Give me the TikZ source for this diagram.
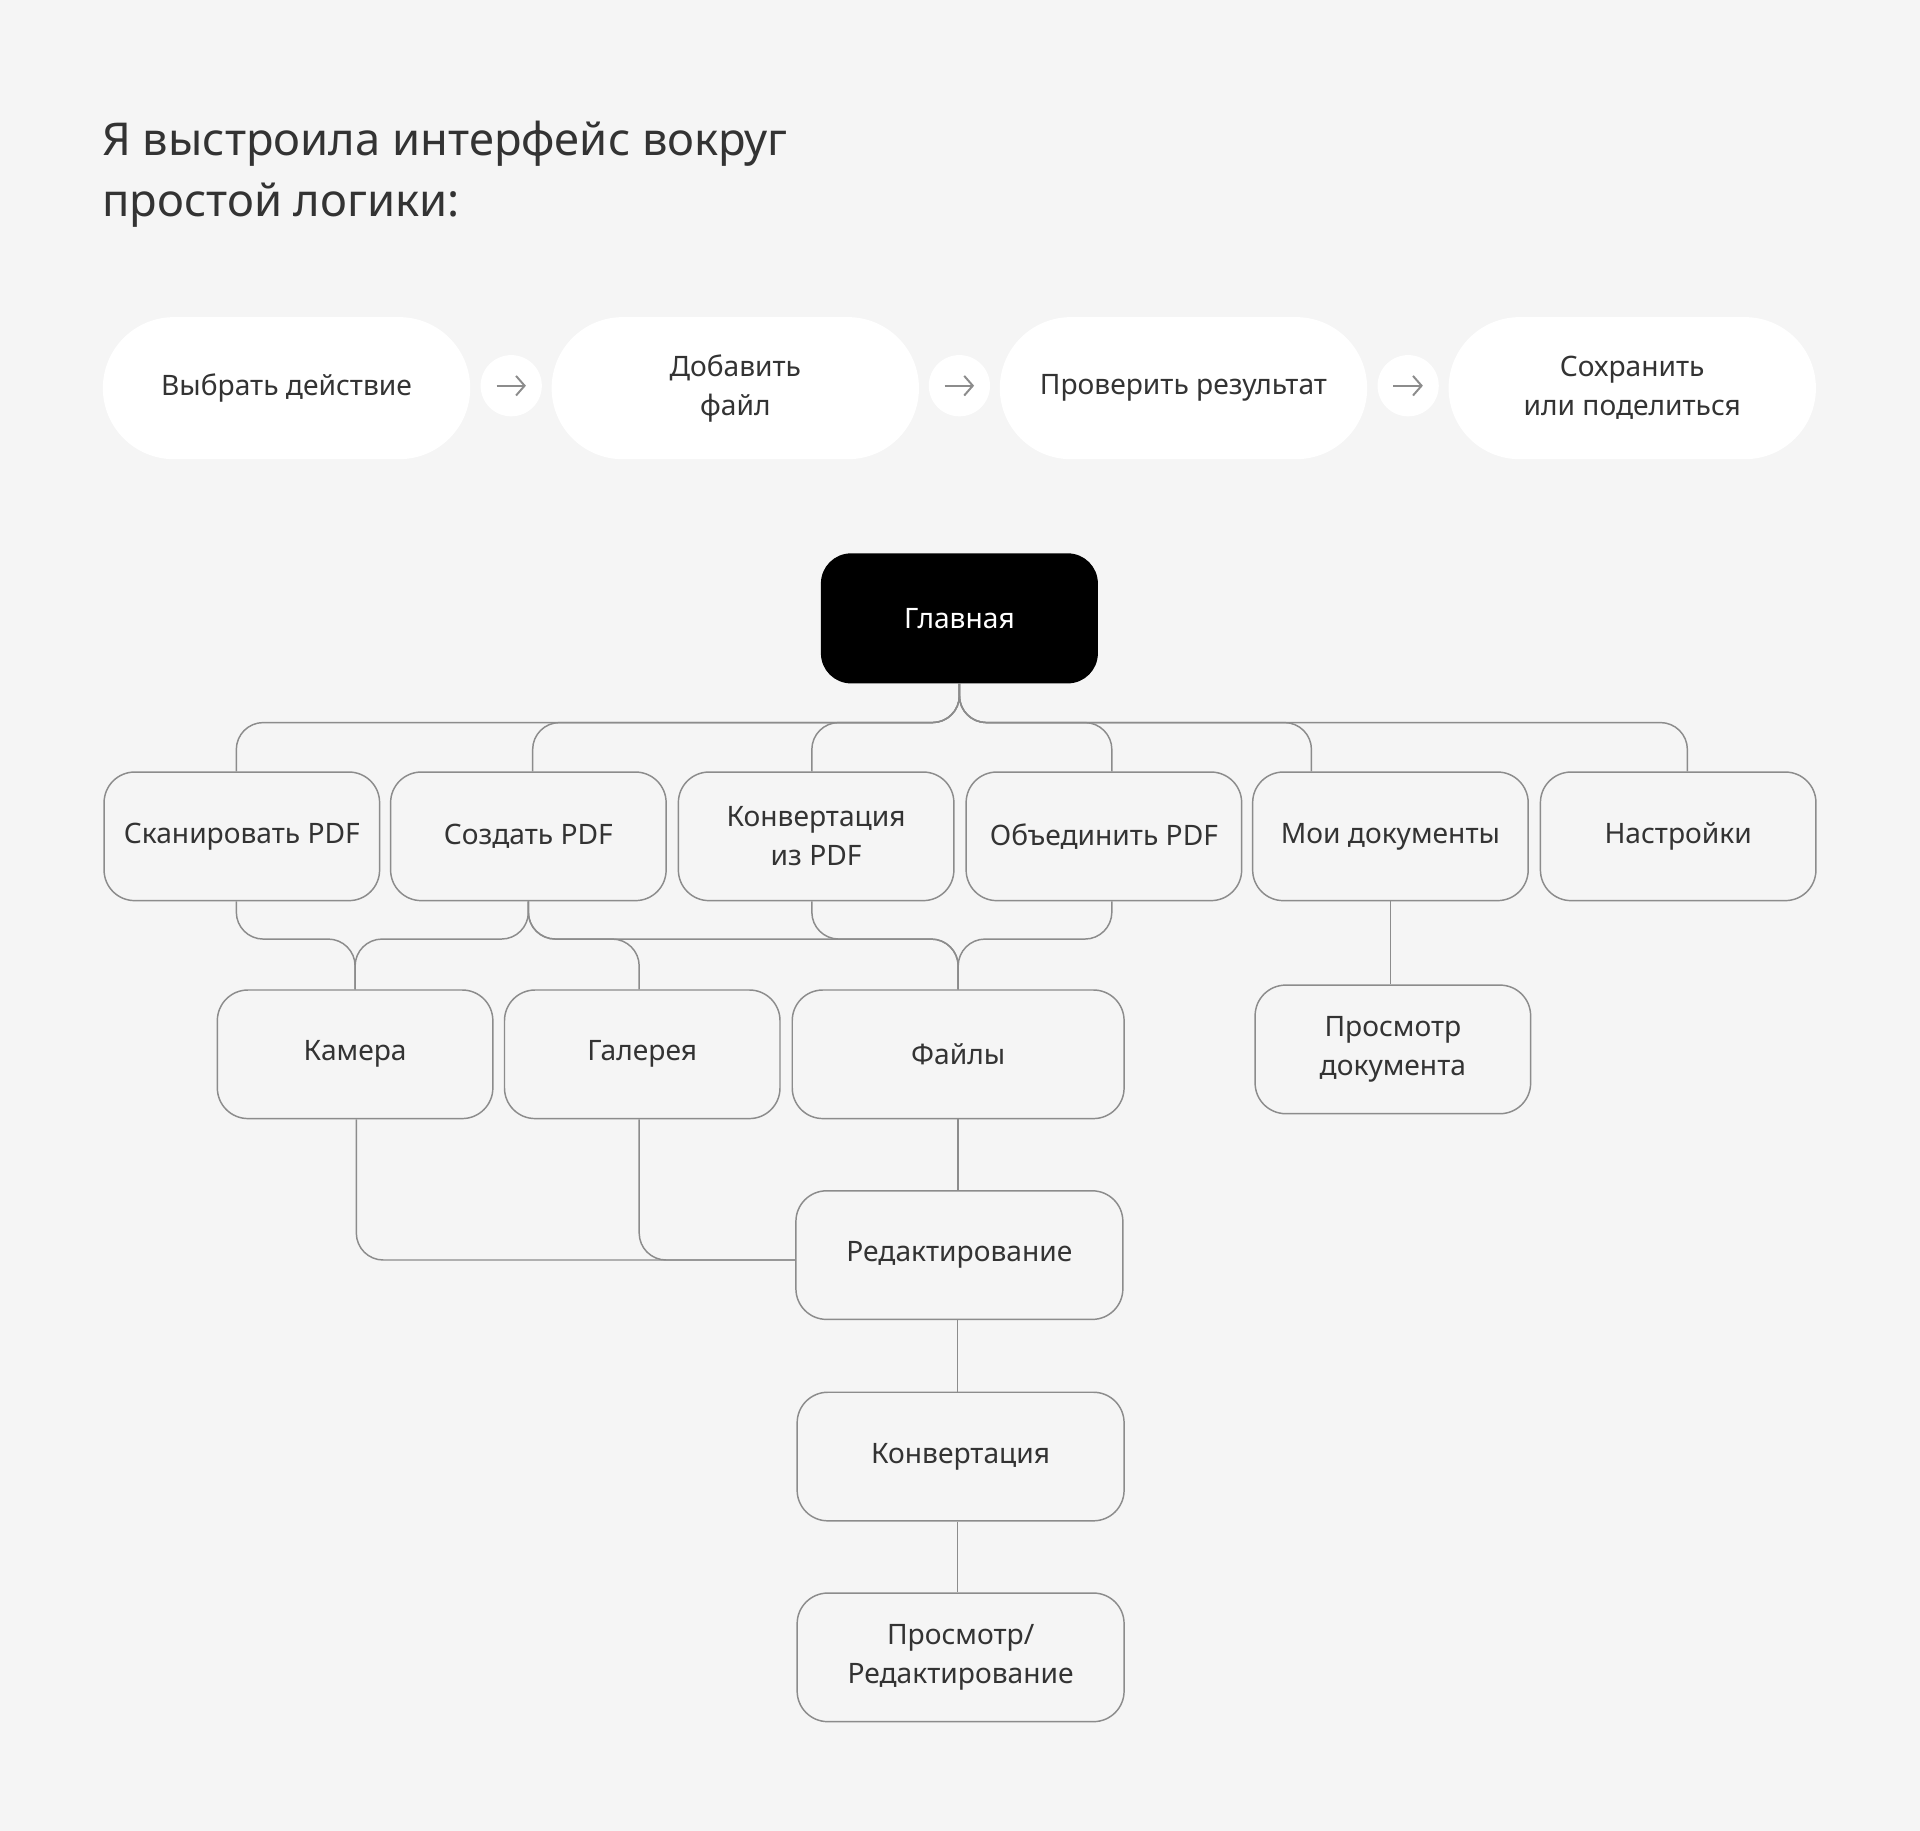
\documentclass[tikz,border=0pt]{standalone}
\usepackage{fontspec}
\setmainfont{Noto Sans}
\usetikzlibrary{arrows.meta}
\definecolor{bg}{HTML}{F5F5F5}
\definecolor{txt}{HTML}{333333}
\definecolor{ln}{HTML}{8C8C8C}
\begin{document}
\begin{tikzpicture}[x=1pt,y=-1pt,
  pill/.style={fill=white,rounded corners=58pt,minimum width=300pt,minimum height=116pt,inner sep=0,align=center,font=\fontsize{23}{32}\selectfont,text=txt},
  circ/.style={circle,fill=white,minimum size=50pt,inner sep=0},
  box/.style={draw=ln,line width=1.2pt,fill=bg,rounded corners=25pt,minimum width=225pt,minimum height=105pt,inner sep=0,align=center,font=\fontsize{23}{32}\selectfont,text=txt},
  conn/.style={draw=ln,line width=1.2pt,rounded corners=22pt}]
\fill[bg] (0,0) rectangle (1568,1495);
\useasboundingbox (0,0) rectangle (1568,1495);
\node[anchor=west,align=left,font=\fontsize{37}{50}\selectfont,text=txt] (title) at (80,142) {Я выстроила интерфейс вокруг\\простой логики:};
% pills
\node[pill] (p1) at (234,317) {Выбрать действие};
\node[pill] (p2) at (600.5,317) {Добавить\\файл};
\node[pill] (p3) at (966.5,317) {Проверить результат};
\node[pill] (p4) at (1333,317) {Сохранить\\или поделиться};
\foreach \n/\x in {a1/417.5,a2/783.5,a3/1150}{
  \node[circ] (\n) at (\x,315) {};
  \draw[ln,line width=1.6pt,-{Straight Barb[length=7pt,width=16pt,line width=1.6pt]}] ([xshift=-12]\n.center) -- ([xshift=12]\n.center);
}
% main
\node[box,draw=black,fill=black,text=white,rounded corners=24pt] (main) at (783.5,505) {Главная};
% row1
\node[box] (s1) at (197.5,683) {Сканировать PDF};
\node[box] (s2) at (431.5,683) {Создать PDF};
\node[box] (s3) at (666.5,683) {Конвертация\\из PDF};
\node[box] (s4) at (901.5,683) {Объединить PDF};
\node[box] (s5) at (1135.5,683) {Мои документы};
\node[box] (s6) at (1370.5,683) {Настройки};
% row2
\node[box] (cam) at (290,861) {Камера};
\node[box] (gal) at (524.5,861) {Галерея};
\node[box,minimum width=271pt] (fil) at (782.5,861) {Файлы};
\node[box] (doc) at (1137.5,857) {Просмотр\\документа};
\node[box,minimum width=267pt] (edit) at (783.5,1025) {Редактирование};
\node[box,minimum width=267pt] (conv) at (784.5,1189.5) {Конвертация};
\node[box,minimum width=267pt] (view) at (784.5,1353.5) {Просмотр/\\Редактирование};
% top connectors
\foreach \n/\dx in {s1/-4.5,s2/3.5,s3/-3.5,s4/6.5,s5/-64.5,s6/7.5}{
  \draw[conn] ([xshift=\dx]\n.north) |- ([yshift=-32]main.south) -- (main.south);
}
% row1 -> row2
\draw[conn] ([xshift=-4.5]s1.south) |- ([yshift=41]cam.north) -- (cam.north);
\draw[conn] (s2.south) |- ([yshift=41]cam.north) -- (cam.north);
\draw[conn] (s2.south) |- ([xshift=-2.5,yshift=41]gal.north) -- ([xshift=-2.5]gal.north);
\draw[conn] (s2.south) |- ([yshift=41]fil.north) -- (fil.north);
\draw[conn] ([xshift=-3.5]s3.south) |- ([yshift=41]fil.north) -- (fil.north);
\draw[conn] ([xshift=6.5]s4.south) |- ([yshift=41]fil.north) -- (fil.north);
\draw[conn] (s5.south) -- (s5.south |- doc.north);
% row2 -> edit
\draw[conn] (fil.south) -- (fil.south |- edit.north);
\draw[conn] ([xshift=1]cam.south) |- ([yshift=-4]edit.west);
\draw[conn] ([xshift=-2.5]gal.south) |- ([yshift=-4]edit.west);
\draw[conn] ([xshift=-1.5]edit.south) -- ([xshift=-1.5]edit.south |- conv.north);
\draw[conn] ([xshift=-2.5]conv.south) -- ([xshift=-2.5]conv.south |- view.north);
\end{tikzpicture}
\end{document}
